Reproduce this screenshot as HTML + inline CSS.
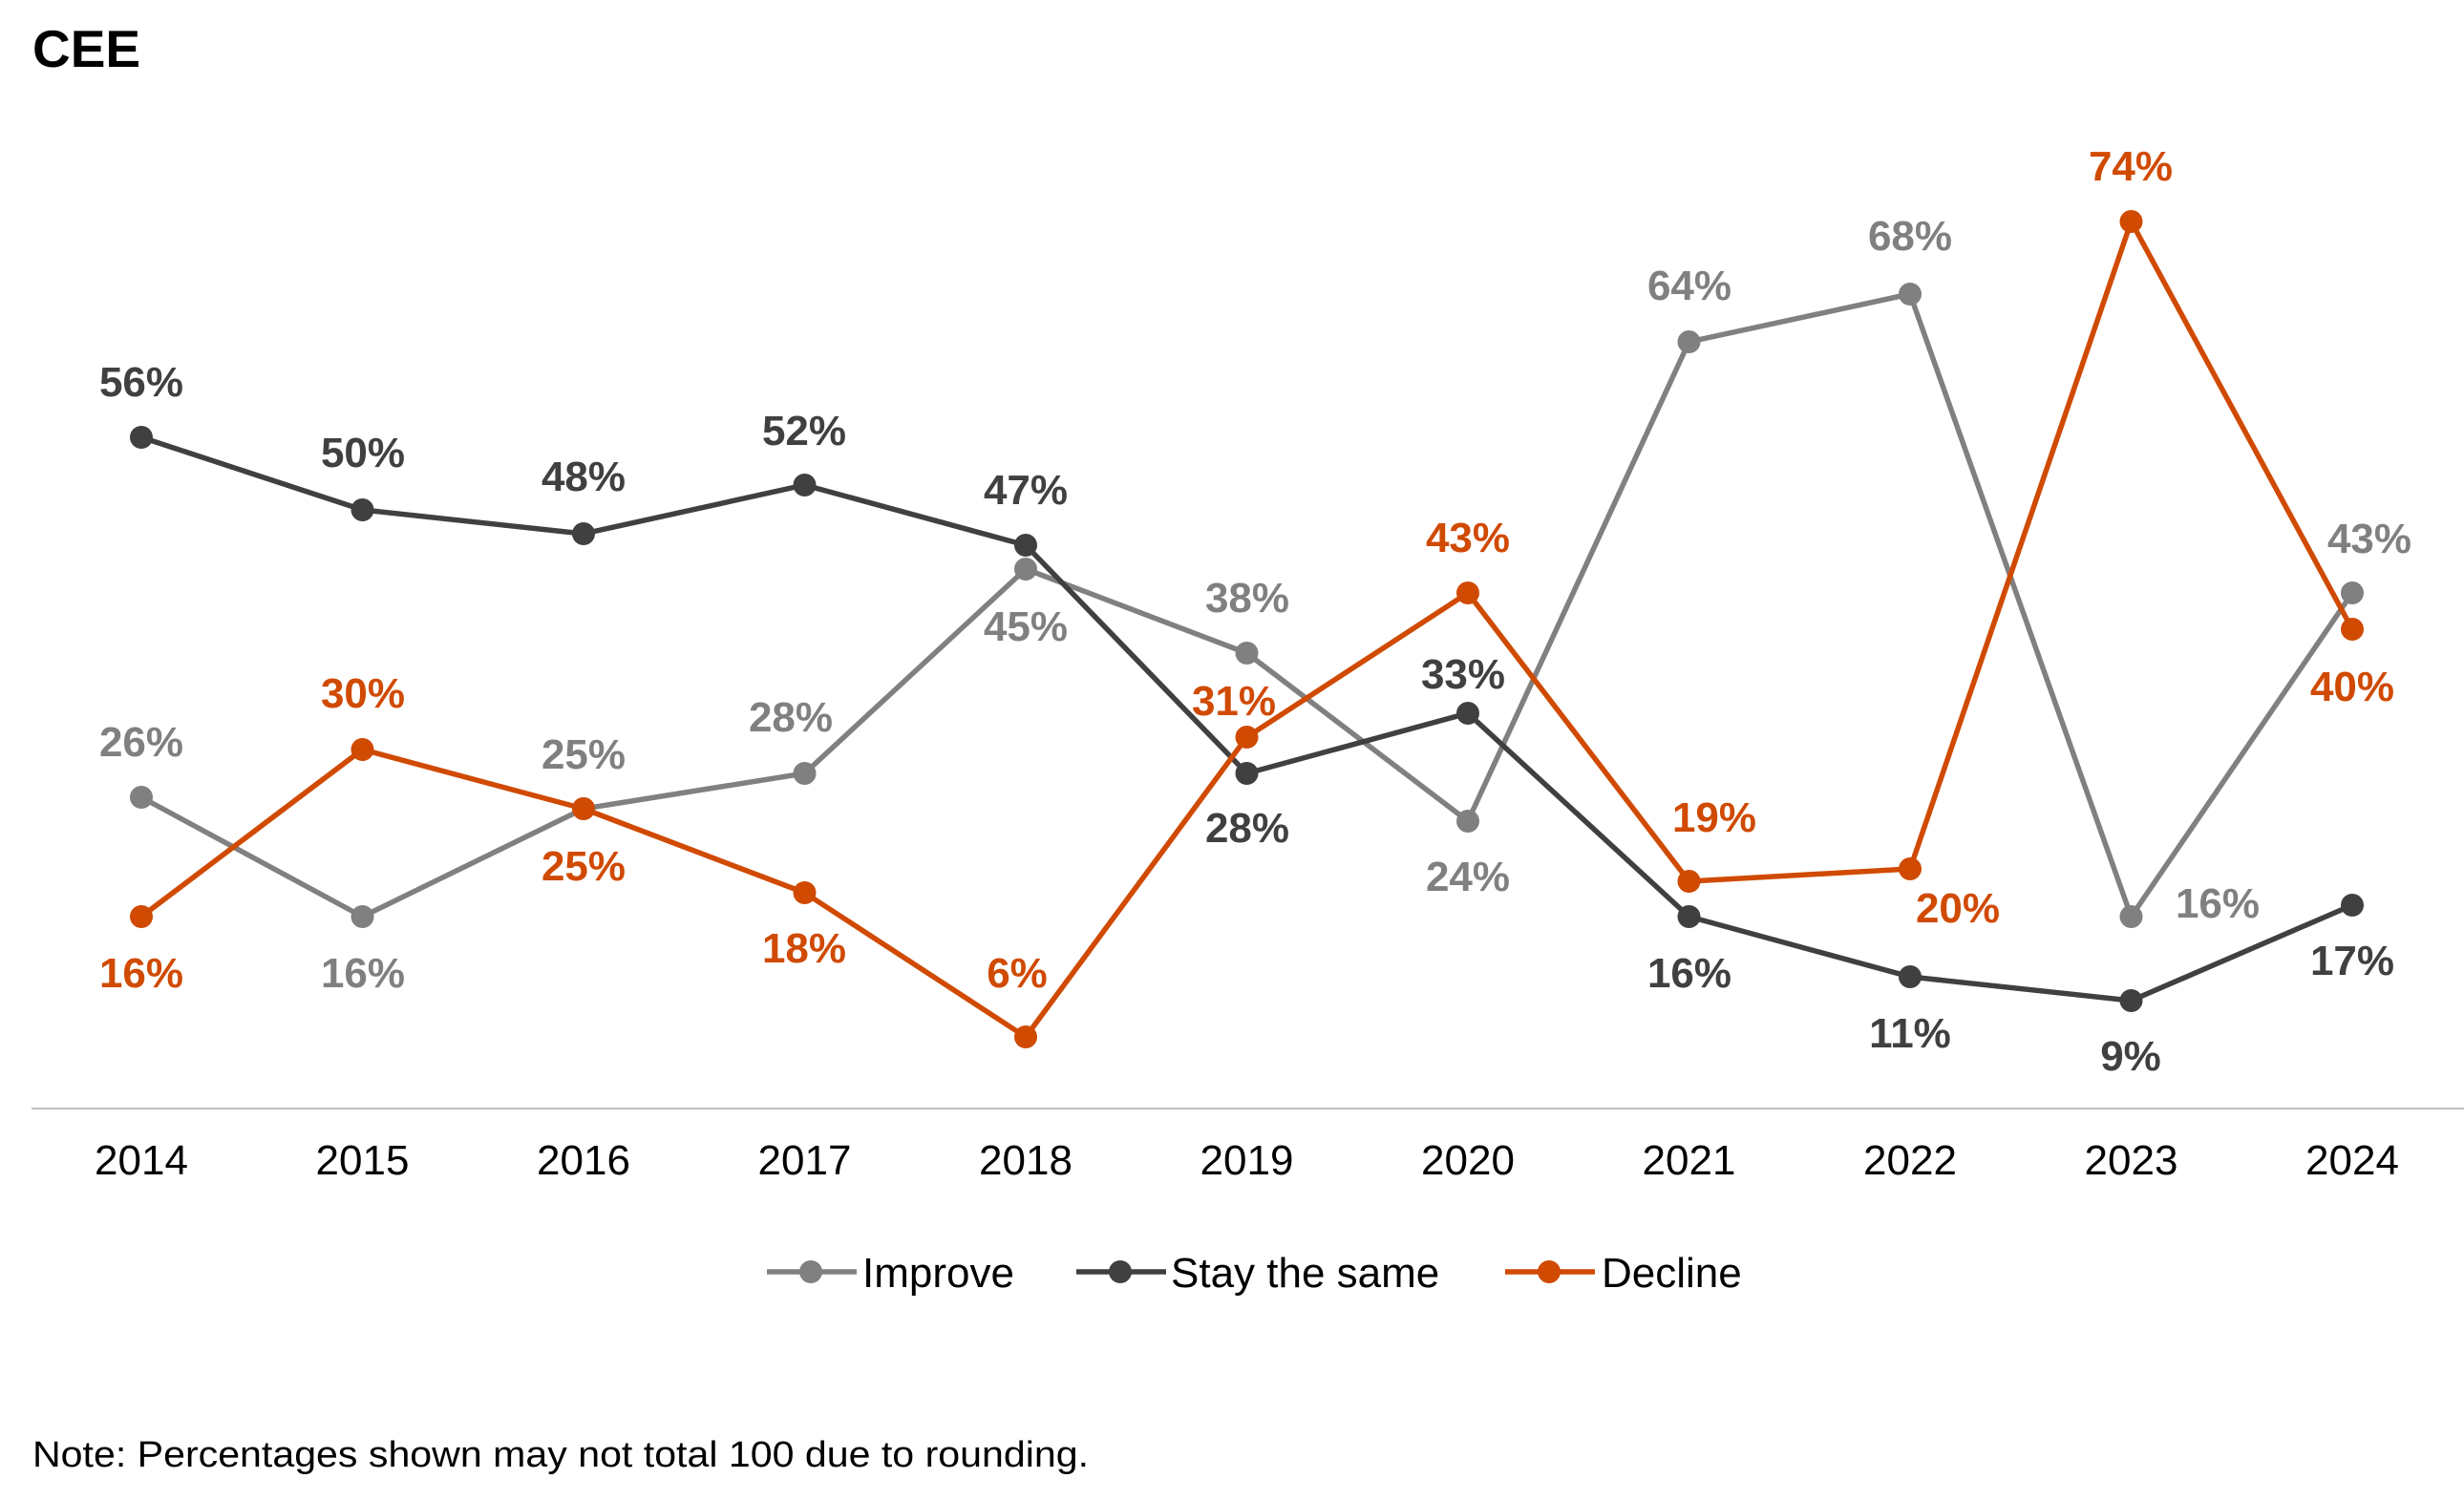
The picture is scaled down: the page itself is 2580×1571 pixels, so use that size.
<!DOCTYPE html>
<html><head><meta charset="utf-8"><style>
html,body{margin:0;padding:0;background:#fff;}
svg{display:block;}
text{font-family:"Liberation Sans",Arial,sans-serif;}
.b{font-weight:bold;font-size:44px;text-anchor:middle;}
.y{font-size:44px;text-anchor:middle;fill:#000;}
.i{fill:#808080}.s{fill:#404040}.d{fill:#D04A02}
</style></head><body>
<svg width="2580" height="1571" viewBox="0 0 2580 1571" xmlns="http://www.w3.org/2000/svg">
<text x="34" y="70" font-size="55" font-weight="bold" fill="#000">CEE</text>
<line x1="33" y1="1161" x2="2580" y2="1161" stroke="#bfbfbf" stroke-width="2"/>
<g class="y">
<text x="148" y="1230">2014</text><text x="379.5" y="1230">2015</text><text x="611" y="1230">2016</text><text x="842.5" y="1230">2017</text><text x="1074" y="1230">2018</text><text x="1305.5" y="1230">2019</text><text x="1537" y="1230">2020</text><text x="1768.5" y="1230">2021</text><text x="2000" y="1230">2022</text><text x="2231.5" y="1230">2023</text><text x="2463" y="1230">2024</text>
</g>
<g fill="none" stroke-width="5.5" stroke-linejoin="round">
<polyline stroke="#808080" points="148,835 379.5,960 611,847 842.5,810 1074,596 1305.5,684 1537,860 1768.5,358 2000,308 2231.5,960 2463,621"/>
<polyline stroke="#404040" points="148,458 379.5,534 611,559 842.5,508 1074,571 1305.5,810 1537,747 1768.5,960 2000,1023 2231.5,1048 2463,948"/>
<polyline stroke="#D04A02" points="148,960 379.5,785 611,847 842.5,935 1074,1086 1305.5,772 1537,621 1768.5,923 2000,910 2231.5,232 2463,659"/>
</g>
<g fill="#808080">
<circle cx="148" cy="835" r="12"/><circle cx="379.5" cy="960" r="12"/><circle cx="611" cy="847" r="12"/><circle cx="842.5" cy="810" r="12"/><circle cx="1074" cy="596" r="12"/><circle cx="1305.5" cy="684" r="12"/><circle cx="1537" cy="860" r="12"/><circle cx="1768.5" cy="358" r="12"/><circle cx="2000" cy="308" r="12"/><circle cx="2231.5" cy="960" r="12"/><circle cx="2463" cy="621" r="12"/>
</g>
<g fill="#404040">
<circle cx="148" cy="458" r="12"/><circle cx="379.5" cy="534" r="12"/><circle cx="611" cy="559" r="12"/><circle cx="842.5" cy="508" r="12"/><circle cx="1074" cy="571" r="12"/><circle cx="1305.5" cy="810" r="12"/><circle cx="1537" cy="747" r="12"/><circle cx="1768.5" cy="960" r="12"/><circle cx="2000" cy="1023" r="12"/><circle cx="2231.5" cy="1048" r="12"/><circle cx="2463" cy="948" r="12"/>
</g>
<g fill="#D04A02">
<circle cx="148" cy="960" r="12"/><circle cx="379.5" cy="785" r="12"/><circle cx="611" cy="847" r="12"/><circle cx="842.5" cy="935" r="12"/><circle cx="1074" cy="1086" r="12"/><circle cx="1305.5" cy="772" r="12"/><circle cx="1537" cy="621" r="12"/><circle cx="1768.5" cy="923" r="12"/><circle cx="2000" cy="910" r="12"/><circle cx="2231.5" cy="232" r="12"/><circle cx="2463" cy="659" r="12"/>
</g>
<g class="b s">
<text x="148" y="415">56%</text><text x="380" y="489">50%</text><text x="611" y="514">48%</text><text x="842" y="466">52%</text><text x="1074" y="528">47%</text><text x="1306" y="882">28%</text><text x="1532" y="721">33%</text><text x="1769" y="1034">16%</text><text x="2000" y="1097">11%</text><text x="2231" y="1121">9%</text><text x="2463" y="1021">17%</text>
</g>
<g class="b i">
<text x="148" y="792">26%</text><text x="380" y="1034">16%</text><text x="611" y="805">25%</text><text x="828" y="766">28%</text><text x="1074" y="671">45%</text><text x="1306" y="641">38%</text><text x="1537" y="933">24%</text><text x="1769" y="314">64%</text><text x="2000" y="262">68%</text><text x="2322" y="961">16%</text><text x="2481" y="579">43%</text>
</g>
<g class="b d">
<text x="148" y="1034">16%</text><text x="380" y="741">30%</text><text x="611" y="922">25%</text><text x="842" y="1008">18%</text><text x="1065" y="1034">6%</text><text x="1292" y="749">31%</text><text x="1537" y="578">43%</text><text x="1795" y="871">19%</text><text x="2050" y="966">20%</text><text x="2231" y="189">74%</text><text x="2463" y="734">40%</text>
</g>
<g stroke-width="5.5">
<line x1="803" y1="1332" x2="897" y2="1332" stroke="#808080"/><circle cx="849" cy="1332" r="12" fill="#808080"/>
<line x1="1127" y1="1332" x2="1221" y2="1332" stroke="#404040"/><circle cx="1173" cy="1332" r="12" fill="#404040"/>
<line x1="1576" y1="1332" x2="1670" y2="1332" stroke="#D04A02"/><circle cx="1622" cy="1332" r="12" fill="#D04A02"/>
</g>
<g font-size="44" fill="#000">
<text x="903" y="1348">Improve</text><text x="1226" y="1348">Stay the same</text><text x="1677" y="1348">Decline</text>
</g>
<text x="34" y="1536" font-size="38" fill="#000" textLength="1106" lengthAdjust="spacingAndGlyphs">Note: Percentages shown may not total 100 due to rounding.</text>
</svg>
</body></html>
